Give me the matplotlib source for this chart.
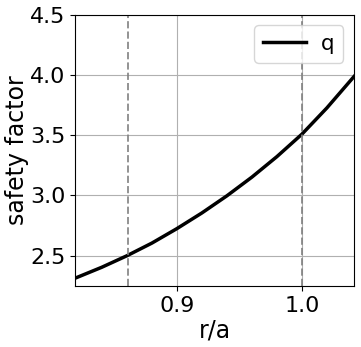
import matplotlib
matplotlib.use("Agg")
import matplotlib.pyplot as plt
from matplotlib.ticker import MultipleLocator

# safety factor profile
r_a = [0.82, 0.84, 0.86, 0.88, 0.90, 0.92, 0.94, 0.96, 0.98, 1.00, 1.02, 1.042]
q = [2.32, 2.405, 2.50, 2.605, 2.725, 2.855, 2.997, 3.152, 3.322, 3.508, 3.726, 3.99]

# rational surfaces marked with dashed lines
r_marks = [0.8606, 1.0]


def main():
    fig = plt.figure(figsize=(3.61, 3.47), dpi=100)
    ax = fig.add_axes([0.208, 0.176, 0.773, 0.782])

    ax.plot(r_a, q, color="black", lw=2.5, label="q")
    for r in r_marks:
        ax.axvline(r, color="gray", ls="--", lw=1.4, alpha=0.85)

    ax.set_xlim(0.8186, 1.0418)
    ax.set_ylim(2.25, 4.5)
    ax.xaxis.set_major_locator(MultipleLocator(0.1))
    ax.yaxis.set_major_locator(MultipleLocator(0.5))
    ax.grid(True)
    ax.tick_params(labelsize=16)

    ax.set_xlabel("r/a", fontsize=17, labelpad=2)
    ax.set_ylabel("safety factor", fontsize=17, labelpad=1)
    ax.legend(loc="upper right", fontsize=15.5, handletextpad=0.7)

    fig.savefig("out.png", dpi=100)


if __name__ == "__main__":
    main()
